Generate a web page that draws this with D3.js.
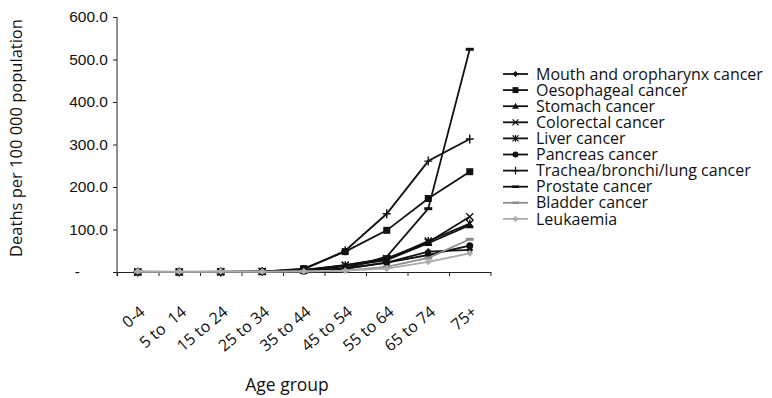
<!DOCTYPE html>
<html>
<head>
<meta charset="utf-8">
<script src="https://cdn.jsdelivr.net/npm/d3@7"></script>
<style>
  body { margin: 0; background: #fff; }
  svg { font-family: "Open Sans", "Noto Sans", sans-serif; }
  .axis path, .axis line { stroke: #222; }
  .axis text { font-size: 15.5px; fill: #111; }
</style>
</head>
<body>
<div class="chart"></div>
<script>
// DATA ---------------------------------------------------------------

const ages = ['0-4', '5 to  14', '15 to 24', '25 to 34', '35 to 44', '45 to 54', '55 to 64', '65 to 74', '75+'];
const yTicks = [0, 100, 200, 300, 400, 500, 600];

const seriesNames = ['Mouth and oropharynx cancer', 'Oesophageal cancer', 'Stomach cancer', 'Colorectal cancer',
    'Liver cancer', 'Pancreas cancer', 'Trachea/bronchi/lung cancer', 'Prostate cancer', 'Bladder cancer', 'Leukaemia'];

const mouth       = [0, 0, 0.1, 0.3, 3, 8, 22, 48, 52];
const oesophageal = [0, 0, 0.2, 1, 8, 48, 98, 173, 236];
const stomach     = [0, 0, 0.3, 1, 4, 13, 28, 68, 110];
const colorectal  = [0, 0, 0.5, 1, 4, 16, 32, 70, 130];
const liver       = [0, 0.1, 0.5, 1, 5, 16, 30, 73, 114];
const pancreas    = [0, 0, 0.1, 0.5, 2, 8, 22, 40, 62];
const lung        = [0, 0, 0.2, 1, 6, 50, 137, 261, 313];
const prostate    = [0, 0, 0, 0.1, 1, 8, 36, 149, 524];
const bladder     = [0, 0, 0, 0.1, 1, 3, 12, 33, 77];
const leukaemia   = [2, 1, 2, 1, 2, 3, 8, 24, 44];

const seriesValues = [mouth, oesophageal, stomach, colorectal, liver, pancreas, lung, prostate, bladder, leukaemia];
const markers = ['diamond', 'square', 'triangle', 'cross', 'star', 'circle', 'plus', 'dash', 'dash', 'diamond'];
const colors = ['#111', '#111', '#111', '#111', '#111', '#111', '#111', '#111', '#8c8c8c', '#ababab'];

// CHART INIT ---------------------------------------------------------

const W = 772, H = 398;
const svg = d3.select('.chart')
    .append('svg')
    .attr('width', W)
    .attr('height', H);

const x0 = 117, x1 = 490.5, yTop = 17, yBot = 272;

const xScale = d3.scaleBand()
    .domain(ages)
    .range([x0, x1])
    .padding(0);

const xEdge = d3.scaleLinear()
    .domain([0, ages.length])
    .range([x0, x1]);

const yScale = d3.scaleLinear()
    .domain([0, 600])
    .range([yBot, yTop]);

// axes
const yAxis = d3.axisLeft(yScale)
    .tickValues(yTicks)
    .tickSize(4)
    .tickFormat(d => d === 0 ? '-' : d3.format('.1f')(d));

const gy = svg.append('g')
    .attr('class', 'axis y-axis')
    .attr('transform', 'translate(' + x0 + ',0)')
    .call(yAxis);
gy.select('.domain').attr('d', 'M0,' + yTop + 'V' + (yBot + 4));
gy.selectAll('.tick text').attr('x', -9);
gy.selectAll('.tick').filter(d => d === 0).select('text').attr('x', -37);

const xAxis = d3.axisBottom(xEdge)
    .tickValues(d3.range(ages.length + 1))
    .tickSize(4)
    .tickSizeOuter(0)
    .tickFormat('');

svg.append('g')
    .attr('class', 'axis x-axis')
    .attr('transform', 'translate(0,' + yBot + ')')
    .call(xAxis);

// category labels, rotated
svg.append('g')
    .selectAll('text')
    .data(ages)
    .join('text')
    .attr('transform', d => 'translate(' + (xScale(d) + xScale.bandwidth() / 2 + 1) + ',' + 305 + ') rotate(-40)')
    .attr('text-anchor', 'end')
    .attr('dy', '0.7em')
    .style('white-space', 'pre')
    .style('font-size', '16px')
    .attr('fill', '#111')
    .text(d => d);

// axis titles
svg.append('text')
    .attr('x', 287)
    .attr('y', 391)
    .attr('text-anchor', 'middle')
    .style('font-size', '17.5px')
    .attr('fill', '#111')
    .text('Age group');

svg.append('text')
    .attr('transform', 'translate(22,' + 138 + ') rotate(-90)')
    .attr('text-anchor', 'middle')
    .style('font-size', '16.5px')
    .attr('fill', '#111')
    .text('Deaths per 100 000 population');

// MARKERS ------------------------------------------------------------

function drawMarker(g, type, color) {
    if (type === 'diamond') {
        g.append('path').attr('d', 'M0,-3.5L3.5,0L0,3.5L-3.5,0Z').attr('fill', color);
    } else if (type === 'square') {
        g.append('rect').attr('x', -3.5).attr('y', -3.5).attr('width', 7).attr('height', 7).attr('fill', color);
    } else if (type === 'triangle') {
        g.append('path').attr('d', 'M0,-4L4,3L-4,3Z').attr('fill', color);
    } else if (type === 'cross') {
        g.append('path').attr('d', 'M-3.5,-3.5L3.5,3.5M-3.5,3.5L3.5,-3.5').attr('stroke', color).attr('stroke-width', 1.4);
    } else if (type === 'star') {
        g.append('path').attr('d', 'M-3.5,-3.5L3.5,3.5M-3.5,3.5L3.5,-3.5M0,-4V4').attr('stroke', color).attr('stroke-width', 1.4);
    } else if (type === 'circle') {
        g.append('circle').attr('r', 3.5).attr('fill', color);
    } else if (type === 'plus') {
        g.append('path').attr('d', 'M-4,0H4M0,-4.5V4.5').attr('stroke', color).attr('stroke-width', 1.4);
    } else if (type === 'dash') {
        g.append('path').attr('d', 'M-4,0H4').attr('stroke', color).attr('stroke-width', 3);
    }
}

// LINES --------------------------------------------------------------

const line = d3.line()
    .x((d, i) => xScale(ages[i]) + xScale.bandwidth() / 2)
    .y(d => yScale(d));

const series = svg.append('g')
    .selectAll('g')
    .data(seriesValues.map((v, i) => ({name: seriesNames[i], values: v, marker: markers[i], color: colors[i]})))
    .join('g');

series.append('path')
    .attr('d', d => line(d.values))
    .attr('fill', 'none')
    .attr('stroke', d => d.color)
    .attr('stroke-width', 1.8);

series.each(function(s) {
    const g = d3.select(this);
    s.values.forEach((v, i) => {
        const m = g.append('g')
            .attr('transform', 'translate(' + (xScale(ages[i]) + xScale.bandwidth() / 2) + ',' + yScale(v) + ')');
        drawMarker(m, s.marker, s.color);
    });
});

// LEGEND -------------------------------------------------------------

const legend = svg.append('g')
    .selectAll('g')
    .data(seriesNames)
    .join('g')
    .attr('transform', (d, i) => 'translate(503,' + (74 + i * 16.1) + ')');

legend.append('line')
    .attr('x1', 0).attr('x2', 25)
    .attr('stroke', (d, i) => colors[i])
    .attr('stroke-width', 1.8);

legend.each(function(d, i) {
    const m = d3.select(this).append('g').attr('transform', 'translate(12.5,0) scale(0.85)');
    drawMarker(m, markers[i], colors[i]);
});

legend.append('text')
    .attr('x', 33)
    .attr('dy', '0.35em')
    .style('font-size', '16px')
    .attr('fill', '#111')
    .text(d => d);
</script>
</body>
</html>
